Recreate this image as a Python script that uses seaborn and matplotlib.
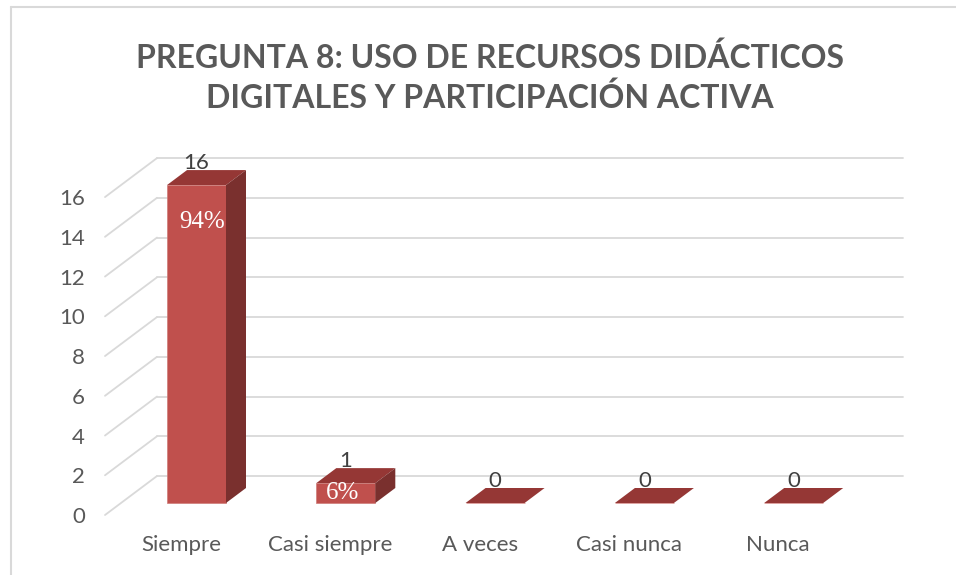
import matplotlib
matplotlib.use('Agg')
import matplotlib.pyplot as plt
import pandas as pd
import seaborn as sns
from matplotlib.lines import Line2D
from matplotlib.patches import Polygon

categories = ['Siempre', 'Casi siempre', 'A veces', 'Casi nunca', 'Nunca']
counts = [16, 1, 0, 0, 0]
percent_labels = ['94%', '6%', '', '', '']
grid_ticks = [0, 2, 4, 6, 8, 10, 12, 14, 16]

W, H = 956, 575
PX_X = 149.3          # pixels per category
PX_Y = 19.87          # pixels per value unit
BAR_W = 59 / PX_X
DX, DY = 20 / PX_X, 15 / PX_Y   # bar depth
WALL_DY = 27 / PX_Y             # back wall above the bar front plane
LEFT_DY = -12 / PX_Y            # front end of the side wall, relative to bar plane

FRONT = '#c0504d'
TOP = '#953735'
SIDE = '#7a302e'
GRID = '#d9d9d9'
TEXT = '#595959'

sns.set_theme(style='white')
plt.rcParams['font.family'] = ['Lato', 'DejaVu Sans']

df = pd.DataFrame({'categoria': categories, 'n': counts})

fig = plt.figure(figsize=(W / 100, H / 100), dpi=100)
fig.patch.set_facecolor('white')
ax = fig.add_axes([0, 0, 1, 1])
ax.patch.set_alpha(0)

# axes fills the figure, limits chosen so that cat i sits at 196.5 + i*PX_X px and 0 at y=503 px
ax.set_xlim(-196.5 / PX_X, (W - 196.5) / PX_X)
ax.set_ylim(-(H - 503) / PX_Y, 503 / PX_Y)

x_left = (105 - 196.5) / PX_X
x_wall = (157 - 196.5) / PX_X
x_right = (903 - 196.5) / PX_X

# back wall and side wall lines
for t in grid_ticks:
    ax.plot([x_wall, x_right], [t + WALL_DY, t + WALL_DY], color=GRID, lw=1.3, zorder=1)
    ax.plot([x_left, x_wall], [t + LEFT_DY, t + WALL_DY], color=GRID, lw=1.3, zorder=1)

sns.barplot(data=df, x='categoria', y='n', order=categories, color=FRONT, saturation=1,
            width=BAR_W, native_scale=False, ax=ax, zorder=3, edgecolor='#cf7b78', linewidth=0.5)
ax.set_xlim(-196.5 / PX_X, (W - 196.5) / PX_X)
ax.set_ylim(-(H - 503) / PX_Y, 503 / PX_Y)

# 3d faces of the bars
for i, v in enumerate(counts):
    l, r = i - BAR_W / 2, i + BAR_W / 2
    ax.add_patch(Polygon([(l, v), (l + DX, v + DY), (r + DX, v + DY), (r, v)],
                         facecolor=TOP, edgecolor='none', zorder=3))
    if v > 0:
        ax.add_patch(Polygon([(r, 0), (r + DX, DY), (r + DX, v + DY), (r, v)],
                             facecolor=SIDE, edgecolor='none', zorder=3))
    # count above bar
    ax.text(i, v + 1.1, str(v), ha='center', va='center', fontsize=16,
            color='#404040', zorder=4)

# percentages on the front faces
ax.text(0.04, counts[0] - 1.86, percent_labels[0], ha='center', va='center',
        fontsize=18, color='white', family='Liberation Serif', zorder=4)
ax.text(0.976, counts[1] - 0.5, percent_labels[1], ha='center', va='center',
        fontsize=18, color='white', family='Liberation Serif', zorder=4)

ax.axis('off')

for t in grid_ticks:
    ax.text((85 - 196.5) / PX_X, t + LEFT_DY - 0.1, str(t), ha='right', va='center',
            fontsize=16, color=TEXT)
for i, c in enumerate(categories):
    ax.text(i * 149 / PX_X - 0.1, -2.12, c, ha='center', va='center', fontsize=16, color=TEXT)

ax.text((490 - 196.5) / PX_X, (503 - 78) / PX_Y,
        'PREGUNTA 8: USO DE RECURSOS DIDÁCTICOS\nDIGITALES Y PARTICIPACIÓN ACTIVA',
        ha='center', va='center', fontsize=23, fontweight='bold', color=TEXT, linespacing=1.36)

# chart frame, only top and left are in the picture
fig.add_artist(Line2D([11 / W, 11 / W], [0, 1 - 7 / H], color=GRID, lw=1.5))
fig.add_artist(Line2D([11 / W, 1], [1 - 7 / H, 1 - 7 / H], color=GRID, lw=1.5))

fig.savefig('out.png', dpi=100)
